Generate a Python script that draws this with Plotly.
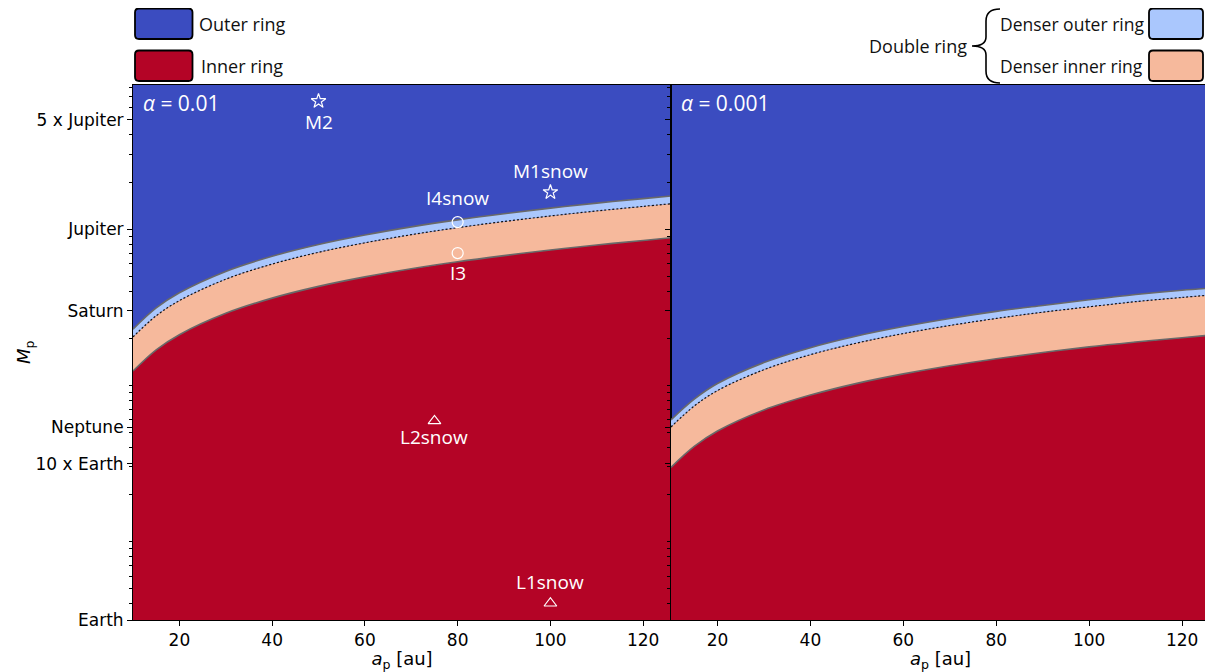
import plotly.graph_objects as go
import math

# ---------------- data ----------------
MJ_IN_EARTH = 317.8
a_grid = [10, 15, 20, 30, 40, 50, 60, 70, 80, 90, 100, 110, 120, 126]

# alpha = 0.01 (left panel), planet masses in Earth masses
left_inner = [39.2, 53.6, 67.0, 91.8, 114.8, 136.5, 157.0, 177.0, 196.3, 214.8, 233.3, 251.2, 268.5, 279.3]
left_split = [64.8, 88.5, 110.7, 151.7, 189.6, 225.5, 259.4, 292.4, 324.3, 354.9, 385.4, 415.0, 443.6, 461.4]
left_outer = [72.7, 99.3, 124.2, 170.2, 212.7, 253.0, 291.0, 328.1, 363.9, 398.2, 432.4, 465.6, 497.7, 517.7]

# alpha = 0.001 (right panel)
right_inner = [9.48, 12.9, 16.2, 22.1, 27.5, 32.7, 37.6, 42.4, 47.0, 51.5, 56.0, 60.1, 64.1, 66.5]
right_split = [17.2, 23.4, 29.4, 40.0, 49.9, 59.2, 68.1, 76.7, 85.1, 93.3, 101, 109, 116, 120]
right_outer = [19.1, 25.9, 32.6, 44.4, 55.3, 65.7, 75.5, 85.1, 94.4, 103, 112, 121, 129, 133]

# simulated planets (left panel)
sim_names = ["M2", "M1snow", "I4snow", "I3", "L2snow", "L1snow"]
sim_a = [50, 100, 80, 80, 75, 100]
sim_mass = [2094, 547, 352, 223, 18.8, 1.28]

ytick_vals = [1, 10, 17.15, 95.16, 317.8, 5 * 317.8]
ytick_text = ["Earth", "10 x Earth", "Neptune", "Saturn", "Jupiter", "5 x Jupiter"]
xtick_vals = [20, 40, 60, 80, 100, 120]
minor_mj = [0.004, 0.005, 0.006, 0.007, 0.008, 0.009,
            0.01, 0.02, 0.03, 0.04, 0.05, 0.06, 0.07, 0.08, 0.09,
            0.1, 0.2, 0.3, 0.4, 0.5, 0.6, 0.7, 0.8, 0.9,
            1, 2, 3, 4, 5, 6, 7, 8]
minor_vals = [m * MJ_IN_EARTH for m in minor_mj]

# ---------------- style ----------------
sim_symbols = ["star-open", "star-open", "circle-open", "circle-open",
               "triangle-up-open", "triangle-up-open"]
sim_label_shift = [-21, 21, 24, -20, -16, 21]

C_OUTER = "#3b4cc0"
C_INNER = "#b40426"
C_DOUT = "#aac7fd"
C_DIN = "#f6b99c"
EDGE = "rgba(105,105,105,1)"
TXT_FONT = "Open Sans"
AX_FONT = "DejaVu Sans"

OFF = 8  # page body margin
W, H = 1213 - OFF, 672 - OFF
ML, MT = 133 - OFF, 85 - OFF
MR = W - (1210 - OFF)
MB = H - (620 - OFF)
PW, PH = W - ML - MR, H - MT - MB
SPLIT = (671 - OFF - ML) / PW


def px(x):
    """target page x pixel -> paper coordinate"""
    return (x - OFF - ML) / PW


def py(y):
    """target page y pixel -> paper coordinate"""
    return (MT + PH - (y - OFF)) / PH


fig = go.Figure()


def add_panel(xa, ya, inner, split, outer):
    bottom = [1.0] * len(a_grid)
    fig.add_trace(go.Scatter(x=a_grid, y=bottom, mode="lines", line=dict(width=0),
                             xaxis=xa, yaxis=ya, showlegend=False, hoverinfo="skip"))
    for vals, col in [(inner, C_INNER), (split, C_DIN), (outer, C_DOUT)]:
        fig.add_trace(go.Scatter(x=a_grid, y=vals, mode="lines", fill="tonexty",
                                 fillcolor=col, line=dict(width=0, shape="spline"),
                                 xaxis=xa, yaxis=ya, showlegend=False, hoverinfo="skip"))
    fig.add_trace(go.Scatter(x=a_grid, y=inner, mode="lines",
                             line=dict(color=EDGE, width=1.6, shape="spline"),
                             xaxis=xa, yaxis=ya, showlegend=False, hoverinfo="skip"))
    fig.add_trace(go.Scatter(x=a_grid, y=outer, mode="lines",
                             line=dict(color=EDGE, width=1.6, shape="spline"),
                             xaxis=xa, yaxis=ya, showlegend=False, hoverinfo="skip"))
    fig.add_trace(go.Scatter(x=a_grid, y=split, mode="lines",
                             line=dict(color="#111111", width=1.2, dash="2px,2px", shape="spline"),
                             xaxis=xa, yaxis=ya, showlegend=False, hoverinfo="skip"))


add_panel("x", "y", left_inner, left_split, left_outer)
add_panel("x2", "y2", right_inner, right_split, right_outer)

# simulated planets
fig.add_trace(go.Scatter(x=sim_a, y=sim_mass, mode="markers",
                         marker=dict(symbol=sim_symbols, size=11, color="white",
                                     line=dict(color="white", width=1.2)),
                         xaxis="x", yaxis="y", showlegend=False, hoverinfo="skip"))

annotations = []
for name, a, m, sh in zip(sim_names, sim_a, sim_mass, sim_label_shift):
    annotations.append(dict(x=a, y=math.log10(m), xref="x", yref="y", text=name,
                            xanchor="center", yanchor="middle",
                            showarrow=False, font=dict(family=TXT_FONT, size=19, color="white"),
                            yshift=sh))

for xr, lab in [("x domain", "0.01"), ("x2 domain", "0.001")]:
    annotations.append(dict(x=0.014, y=py(103), xref=xr, yref="paper", xanchor="left",
                            yanchor="middle", showarrow=False,
                            text="<i>α</i> = " + lab,
                            font=dict(family=TXT_FONT, size=21, color="white")))

# y-axis title
annotations.append(dict(x=px(25), y=py(352), xref="paper", yref="paper", text="<i>M</i><sub>p</sub>",
                        showarrow=False, textangle=-90, xanchor="center", yanchor="middle",
                        font=dict(family=AX_FONT, size=18, color="black")))

# legend texts
leg_font = dict(family=TXT_FONT, size=18, color="#111111")
leg_font2 = dict(family=TXT_FONT, size=17.5, color="#111111")
annotations += [
    dict(x=px(197), y=py(24), xref="paper", yref="paper", text="Outer ring", xanchor="left",
         yanchor="middle", showarrow=False, font=leg_font),
    dict(x=px(199), y=py(66), xref="paper", yref="paper", text="Inner ring", xanchor="left",
         yanchor="middle", showarrow=False, font=leg_font),
    dict(x=px(969), y=py(46), xref="paper", yref="paper", text="Double ring", xanchor="right",
         yanchor="middle", showarrow=False, font=leg_font),
    dict(x=px(998), y=py(24), xref="paper", yref="paper", text="Denser outer ring", xanchor="left",
         yanchor="middle", showarrow=False, font=leg_font2),
    dict(x=px(998), y=py(66), xref="paper", yref="paper", text="Denser inner ring", xanchor="left",
         yanchor="middle", showarrow=False, font=leg_font2),
]


def rounded_box(x0, y0, x1, y1, r, fill):
    p = (f"M {px(x0 + r)} {py(y0)} L {px(x1 - r)} {py(y0)} "
         f"Q {px(x1)} {py(y0)} {px(x1)} {py(y0 + r)} L {px(x1)} {py(y1 - r)} "
         f"Q {px(x1)} {py(y1)} {px(x1 - r)} {py(y1)} L {px(x0 + r)} {py(y1)} "
         f"Q {px(x0)} {py(y1)} {px(x0)} {py(y1 - r)} L {px(x0)} {py(y0 + r)} "
         f"Q {px(x0)} {py(y0)} {px(x0 + r)} {py(y0)} Z")
    return dict(type="path", path=p, xref="paper", yref="paper", fillcolor=fill,
                line=dict(color="black", width=1.8), layer="above")


shapes = [
    rounded_box(135, 8.5, 192.5, 39, 4, C_OUTER),
    rounded_box(135, 50.5, 192.5, 81, 4, C_INNER),
    rounded_box(1149, 8.5, 1203, 39, 4, C_DOUT),
    rounded_box(1149, 50.5, 1203, 81, 4, C_DIN),
]
brace = (f"M {px(1000)} {py(9)} Q {px(986)} {py(9)} {px(986)} {py(21)} "
         f"L {px(986)} {py(37)} Q {px(986)} {py(46)} {px(972)} {py(46)} "
         f"Q {px(986)} {py(46)} {px(986)} {py(55)} L {px(986)} {py(71)} "
         f"Q {px(986)} {py(83)} {px(1000)} {py(83)}")
shapes.append(dict(type="path", path=brace, xref="paper", yref="paper",
                   line=dict(color="black", width=1.6), layer="above"))

tick_font = dict(family=AX_FONT, size=17, color="black")
xaxis_common = dict(range=[10, 126], tickvals=xtick_vals, ticks="outside", ticklen=5,
                    tickcolor="black", tickfont=tick_font, showgrid=False, zeroline=False,
                    showline=True, linecolor="black", linewidth=1, mirror=True,
                    title=dict(text="<i>a</i><sub>p</sub> [au]",
                               font=dict(family=AX_FONT, size=18, color="black"), standoff=2))
minor = dict(tickvals=minor_vals, ticks="outside", ticklen=3, tickcolor="black", showgrid=False)
yaxis_common = dict(type="log", range=[0, 3.424], tickvals=ytick_vals, ticktext=ytick_text,
                    ticks="outside", ticklen=5, tickcolor="black", tickfont=tick_font,
                    showgrid=False, zeroline=False, showline=True, linecolor="black",
                    linewidth=1, mirror=True, minor=minor)

fig.update_layout(
    width=W, height=H,
    margin=dict(l=ML, r=MR, t=MT, b=MB),
    paper_bgcolor="white",
    plot_bgcolor=C_OUTER,
    xaxis=dict(domain=[0, SPLIT], anchor="y", **xaxis_common),
    xaxis2=dict(domain=[SPLIT, 1], anchor="y2", **xaxis_common),
    yaxis=dict(anchor="x", **yaxis_common),
    yaxis2=dict(anchor="x2", matches="y", showticklabels=False, **yaxis_common),
    annotations=annotations,
    shapes=shapes,
    showlegend=False,
)

fig.write_html(
    "out.html",
    post_script="document.documentElement.style.overflow='hidden';document.body.style.overflow='hidden';",
)
